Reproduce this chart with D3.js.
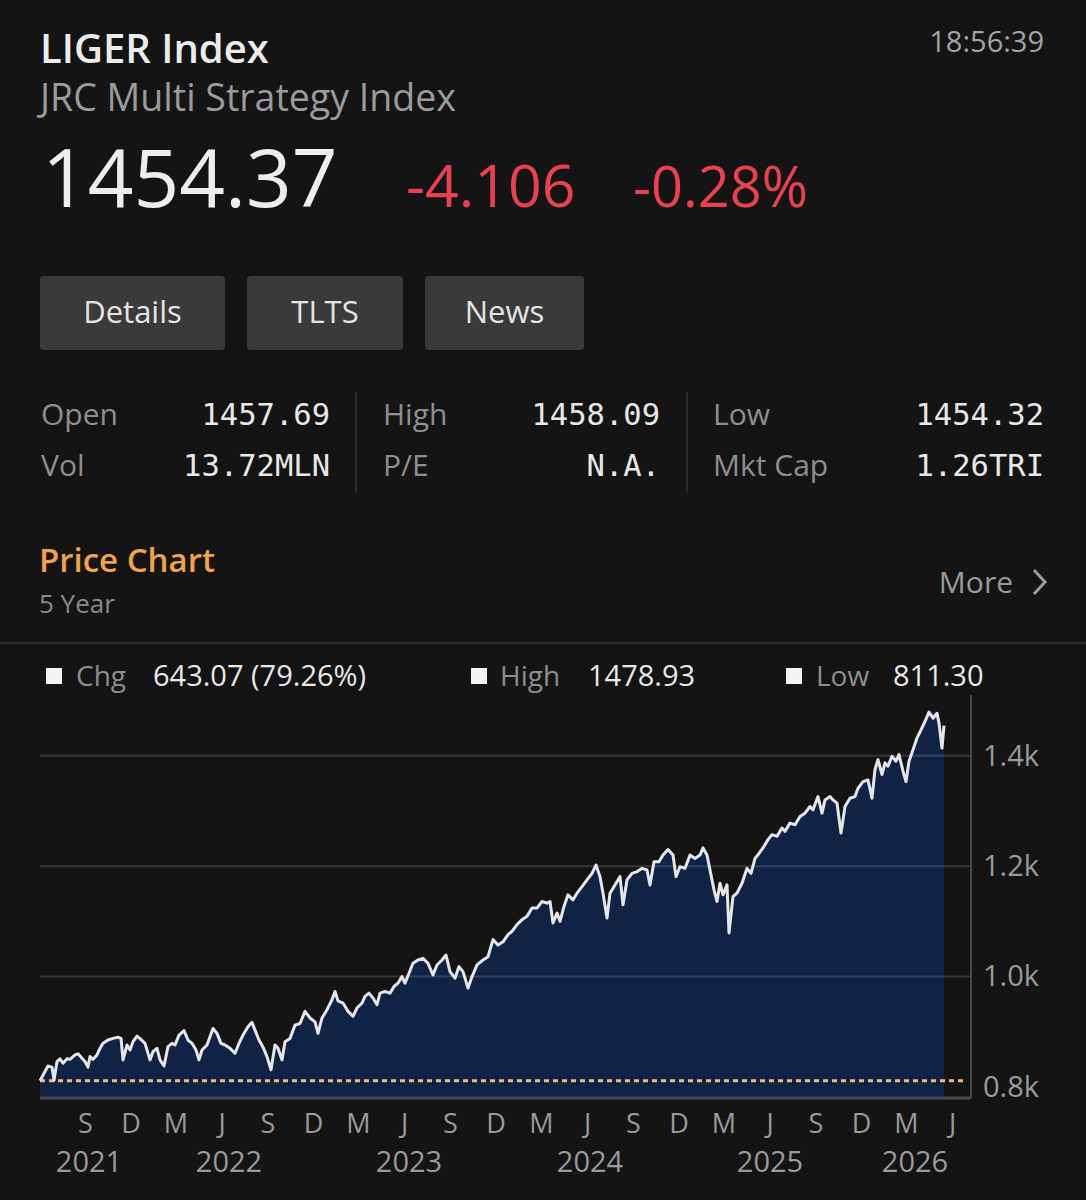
<!DOCTYPE html>
<html>
<head>
<meta charset="utf-8">
<script src="https://cdn.jsdelivr.net/npm/d3@7"></script>
<style>
  html, body { margin: 0; padding: 0; background: #141414; }
  svg { display: block; }
</style>
</head>
<body>
<div id="card"></div>
<script>
// quote header
const quoteTitle = "LIGER Index"
const quoteName = "JRC Multi Strategy Index"
const quoteTime = "18:56:39"
const quoteLast = "1454.37"
const quoteChange = ["-4.106", "-0.28%"]
const buttonLabels = ["Details", "TLTS", "News"]

// stats table, one entry per column (row 1, row 2)
const statLabels = [["Open", "Vol"], ["High", "P/E"], ["Low", "Mkt Cap"]]
const statValues = [["1457.69", "13.72MLN"], ["1458.09", "N.A."], ["1454.32", "1.26TRI"]]

// chart legend
const legendLabels = ["Chg", "High", "Low"]
const legendValues = ["643.07 (79.26%)", "1478.93", "811.30"]
const lowValue = 811.30

const yTicks = [800, 1000, 1200, 1400]
const yTickLabels = ["0.8k", "1.0k", "1.2k", "1.4k"]
const gridTicks = [1000, 1200, 1400]
const yearLabels = ["2021", "2022", "2023", "2024", "2025", "2026"]
const yearLabelDates = ["2021-09-09", "2022-06-16", "2023-06-11", "2024-06-07", "2025-06-02", "2026-03-19"]

// 5 year price line
const priceDates = [
  "2021-06-03","2021-06-13","2021-06-19","2021-06-27","2021-07-01","2021-07-07","2021-07-13","2021-07-19","2021-07-27","2021-08-02",
  "2021-08-12","2021-08-18","2021-08-26","2021-09-01","2021-09-07","2021-09-11","2021-09-17","2021-09-25","2021-10-01","2021-10-07",
  "2021-10-17","2021-10-27","2021-11-06","2021-11-12","2021-11-16","2021-11-24","2021-11-30","2021-12-06","2021-12-14","2021-12-22",
  "2021-12-30",
  "2022-01-09","2022-01-15","2022-01-23","2022-01-29","2022-02-06","2022-02-14","2022-02-22","2022-02-28","2022-03-08","2022-03-18",
  "2022-03-26","2022-04-03","2022-04-11","2022-04-17","2022-04-23","2022-05-03","2022-05-09","2022-05-15","2022-05-23","2022-05-31",
  "2022-06-08","2022-06-18","2022-06-28","2022-07-06","2022-07-14","2022-07-24","2022-08-01","2022-08-07","2022-08-15","2022-08-23",
  "2022-08-31","2022-09-08","2022-09-16","2022-09-22","2022-09-30","2022-10-06","2022-10-16","2022-10-26","2022-11-05","2022-11-15",
  "2022-11-25","2022-12-05","2022-12-11","2022-12-19","2022-12-29",
  "2023-01-08","2023-01-14","2023-01-20","2023-01-30","2023-02-09","2023-02-19","2023-02-27","2023-03-09","2023-03-15","2023-03-23",
  "2023-03-31","2023-04-08","2023-04-14","2023-04-24","2023-05-04","2023-05-12","2023-05-20","2023-05-28","2023-06-03","2023-06-11",
  "2023-06-19","2023-06-29","2023-07-09","2023-07-19","2023-07-29","2023-08-06","2023-08-16","2023-08-24","2023-09-01","2023-09-11",
  "2023-09-19","2023-09-27","2023-10-07","2023-10-15","2023-10-25","2023-11-06","2023-11-16","2023-11-26","2023-12-06","2023-12-16",
  "2023-12-26",
  "2024-01-03","2024-01-13","2024-01-23","2024-02-02","2024-02-12","2024-02-22","2024-03-03","2024-03-13","2024-03-19","2024-03-25",
  "2024-04-02","2024-04-08","2024-04-16","2024-04-24","2024-05-04","2024-05-12","2024-05-22","2024-06-01","2024-06-11","2024-06-19",
  "2024-06-27","2024-07-03","2024-07-11","2024-07-17","2024-07-27","2024-08-06","2024-08-12","2024-08-20","2024-08-30","2024-09-09",
  "2024-09-19","2024-09-29","2024-10-05","2024-10-13","2024-10-23","2024-10-31","2024-11-10","2024-11-20","2024-11-26","2024-12-04",
  "2024-12-14","2024-12-24",
  "2025-01-03","2025-01-13","2025-01-19","2025-01-27","2025-02-02","2025-02-10","2025-02-16","2025-02-22","2025-02-28","2025-03-08",
  "2025-03-12","2025-03-20","2025-03-28","2025-04-07","2025-04-17","2025-04-25","2025-05-03","2025-05-11","2025-05-19","2025-05-29",
  "2025-06-06","2025-06-16","2025-06-26","2025-07-02","2025-07-12","2025-07-22","2025-08-01","2025-08-11","2025-08-21","2025-08-27",
  "2025-09-06","2025-09-14","2025-09-20","2025-09-30","2025-10-06","2025-10-14","2025-10-22","2025-10-30","2025-11-09","2025-11-19",
  "2025-11-25","2025-12-05","2025-12-15","2025-12-23","2025-12-29",
  "2026-01-04","2026-01-12","2026-01-18","2026-01-24","2026-02-01","2026-02-09","2026-02-15","2026-02-23","2026-03-01","2026-03-07",
  "2026-03-15","2026-03-23","2026-03-31","2026-04-08","2026-04-16","2026-04-24","2026-05-02","2026-05-06","2026-05-12","2026-05-16"
]
const priceValues = [
  811.30,828,838,836,812,846,851,843,851,850,858,860,852,846,836,855,850,858,870,879,
  885,888,890,888,849,876,867,882,892,886,879,
  849,864,870,849,838,873,879,876,894,902,885,879,867,849,867,876,891,906,897,879,
  876,870,861,879,894,909,917,903,885,872,855,831,876,870,849,882,888,912,915,937,
  925,918,897,925,940,
  958,973,956,952,937,928,943,952,964,970,961,949,970,973,970,982,988,1000,988,1006,
  1024,1030,1033,1024,1003,1021,1030,1039,1009,997,1018,1009,979,1000,1021,1030,1036,1067,1057,1063,
  1076,
  1082,1094,1103,1109,1124,1124,1136,1133,1136,1097,1115,1100,1127,1148,1139,1151,1163,1175,1187,1202,
  1181,1151,1106,1151,1166,1181,1130,1175,1187,1190,1196,1193,1166,1208,1208,1220,1230,1220,1181,1199,
  1196,1220,
  1214,1220,1233,1220,1193,1157,1136,1169,1148,1166,1079,1145,1151,1169,1196,1187,1214,1223,1233,1248,
  1257,1254,1269,1263,1278,1275,1290,1296,1308,1302,1326,1296,1320,1326,1320,1314,1260,1308,1323,1326,
  1341,1353,1356,1323,1375,
  1393,1366,1387,1381,1399,1390,1402,1372,1353,1390,1411,1432,1447,1462,1478.93,1468,1477,1459,1414,1454.37
]

const SANS = "'Open Sans', 'Noto Sans', sans-serif"
const MONO = "'DejaVu Sans Mono', 'Liberation Mono', monospace"

class PriceCard {

    constructor(){
        this.width = 1086
        this.height = 1200
        this.svg = d3.select("#card").append("svg")
            .attr("width", this.width)
            .attr("height", this.height)
        this.svg.append("rect").attr("width", this.width).attr("height", this.height).attr("fill", "#141414")
    }

    drawHeader(){
        let svg = this.svg
        svg.append("text").text(quoteTitle).attr("x", 40).attr("y", 63)
            .style("font-family", SANS).style("font-size", "40px").style("font-weight", 600).attr("fill", "#ececec")
        svg.append("text").text(quoteTime).attr("x", 1044).attr("y", 52).attr("text-anchor", "end")
            .style("font-family", SANS).style("font-size", "29px").attr("fill", "#a3a3a3")
        svg.append("text").text(quoteName).attr("x", 40).attr("y", 111)
            .style("font-family", SANS).style("font-size", "37.5px").attr("fill", "#9b9b9b")
        svg.append("text").text(quoteLast).attr("x", 42).attr("y", 207)
            .style("font-family", SANS).style("font-size", "80px").attr("fill", "#ededed")
        let changeX = [406, 633]
        let changeSize = [59, 56]
        quoteChange.forEach((c, i) => {
            svg.append("text").text(c).attr("x", changeX[i]).attr("y", 207)
                .style("font-family", SANS).style("font-size", changeSize[i] + "px").attr("fill", "#e8414f")
        })

        // buttons
        let boxes = [{x: 40, w: 185}, {x: 247, w: 156}, {x: 425, w: 159}]
        let btn = svg.append("g").selectAll("g")
            .data(buttonLabels)
            .join("g")
            .attr("transform", (d, i) => `translate(${boxes[i].x}, 276)`)
        btn.append("rect")
            .attr("width", (d, i) => boxes[i].w)
            .attr("height", 74)
            .attr("rx", 4)
            .attr("fill", "#3a3a3a")
        btn.append("text").text(d => d)
            .attr("x", (d, i) => boxes[i].w / 2)
            .attr("y", 47)
            .attr("text-anchor", "middle")
            .style("font-family", SANS).style("font-size", "31px").attr("fill", "#e4e4e4")
    }

    drawStats(){
        let svg = this.svg
        let labelX = [41, 383, 713]
        let valueX = [330, 660, 1044]
        let rowY = [425, 476]
        for (let c = 0; c < statLabels.length; c++){
            for (let r = 0; r < 2; r++){
                svg.append("text").text(statLabels[c][r]).attr("x", labelX[c]).attr("y", rowY[r])
                    .style("font-family", SANS).style("font-size", "30px").attr("fill", "#8e8e8e")
                svg.append("text").text(statValues[c][r]).attr("x", valueX[c]).attr("y", rowY[r])
                    .attr("text-anchor", "end")
                    .style("font-family", MONO).style("font-size", "30.5px").attr("fill", "#e8e8e8")
            }
        }
        ;[356, 687].forEach(x => {
            svg.append("line").attr("x1", x).attr("x2", x).attr("y1", 392).attr("y2", 492)
                .attr("stroke", "#333").attr("stroke-width", 1.5)
        })

        svg.append("text").text("Price Chart").attr("x", 39).attr("y", 572)
            .style("font-family", SANS).style("font-size", "33px").style("font-weight", 600).attr("fill", "#f0a24c")
        svg.append("text").text("5 Year").attr("x", 39).attr("y", 613)
            .style("font-family", SANS).style("font-size", "26px").attr("fill", "#8a8a8a")
        svg.append("text").text("More").attr("x", 1013).attr("y", 593).attr("text-anchor", "end")
            .style("font-family", SANS).style("font-size", "30px").attr("fill", "#9a9a9a")
        svg.append("path").attr("d", "M1034,570 L1045,582 L1034,594")
            .attr("fill", "none").attr("stroke", "#9a9a9a").attr("stroke-width", 3)
        svg.append("line").attr("x1", 0).attr("x2", this.width).attr("y1", 643).attr("y2", 643)
            .attr("stroke", "#2b2b2b").attr("stroke-width", 2)
    }

    drawLegend(){
        let svg = this.svg
        let sqX = [46, 471, 786]
        let labX = [76, 500, 816]
        let valX = [153, 588, 893]
        legendLabels.forEach((l, i) => {
            svg.append("rect").attr("x", sqX[i]).attr("y", 668).attr("width", 16).attr("height", 16).attr("fill", "#f4f4f4")
            svg.append("text").text(l).attr("x", labX[i]).attr("y", 686)
                .style("font-family", SANS).style("font-size", "28px").attr("fill", "#8e8e8e")
            svg.append("text").text(legendValues[i]).attr("x", valX[i]).attr("y", 686)
                .style("font-family", SANS).style("font-size", "29px").attr("fill", "#e8e8e8")
        })
    }

    drawChart(){
        let svg = this.svg
        let left = 40, right = 971, top = 695, bottom = 1098
        let parse = d3.utcParse("%Y-%m-%d")
        let data = priceDates.map((d, i) => ({date: parse(d), value: priceValues[i]}))
        //console.log(data.length)

        let x = d3.scaleUtc()
            .domain([parse("2021-06-03"), parse("2026-07-07")])
            .range([left, right - 1])
        let y = d3.scaleLinear()
            .domain([780, 1510])
            .range([bottom, top])

        let area = d3.area()
            .x(d => x(d.date))
            .y0(bottom)
            .y1(d => y(d.value))
        let line = d3.line()
            .x(d => x(d.date))
            .y(d => y(d.value))

        svg.append("path").datum(data).attr("d", area).attr("fill", "#112344")

        svg.append("g").selectAll("line")
            .data(gridTicks)
            .join("line")
            .attr("x1", left).attr("x2", right)
            .attr("y1", d => y(d)).attr("y2", d => y(d))
            .attr("stroke", "#ffffff").attr("stroke-opacity", 0.14).attr("stroke-width", 2)

        svg.append("line")
            .attr("x1", left).attr("x2", right - 5)
            .attr("y1", y(lowValue)).attr("y2", y(lowValue))
            .attr("stroke", "#f2b877").attr("stroke-width", 3).attr("stroke-dasharray", "5,4")

        svg.append("path").datum(data).attr("d", line)
            .attr("fill", "none").attr("stroke", "#e3e6eb").attr("stroke-width", 3)
            .attr("stroke-linejoin", "round")

        // frame
        svg.append("line").attr("x1", right).attr("x2", right).attr("y1", top).attr("y2", bottom)
            .attr("stroke", "#474747").attr("stroke-width", 2)
        svg.append("line").attr("x1", left).attr("x2", right).attr("y1", bottom).attr("y2", bottom)
            .attr("stroke", "#444a55").attr("stroke-width", 3)

        let yAxis = svg.append("g")
            .attr("transform", `translate(${right}, 0)`)
            .call(d3.axisRight(y).tickValues(yTicks).tickFormat((d, i) => yTickLabels[i]).tickSize(0).tickPadding(12))
        yAxis.select(".domain").remove()
        yAxis.selectAll("text")
            .style("font-family", SANS).style("font-size", "29px").attr("fill", "#9a9a9a")

        let monthTicks = d3.utcMonths(parse("2021-08-01"), parse("2026-07-01")).filter(d => d.getUTCMonth() % 3 === 2)
        let xAxis = svg.append("g")
            .attr("transform", `translate(0, ${bottom})`)
            .call(d3.axisBottom(x).tickValues(monthTicks).tickFormat(d => d3.utcFormat("%b")(d)[0]).tickSize(0).tickPadding(16))
        xAxis.select(".domain").remove()
        xAxis.selectAll("text")
            .style("font-family", SANS).style("font-size", "27px").attr("fill", "#9a9a9a")

        svg.append("g").selectAll("text")
            .data(yearLabels)
            .join("text")
            .text(d => d)
            .attr("x", (d, i) => x(parse(yearLabelDates[i])))
            .attr("y", 1172)
            .attr("text-anchor", "middle")
            .style("font-family", SANS).style("font-size", "29px").attr("fill", "#9a9a9a")
    }
}

let card = new PriceCard()
card.drawHeader()
card.drawStats()
card.drawLegend()
card.drawChart()
</script>
</body>
</html>
